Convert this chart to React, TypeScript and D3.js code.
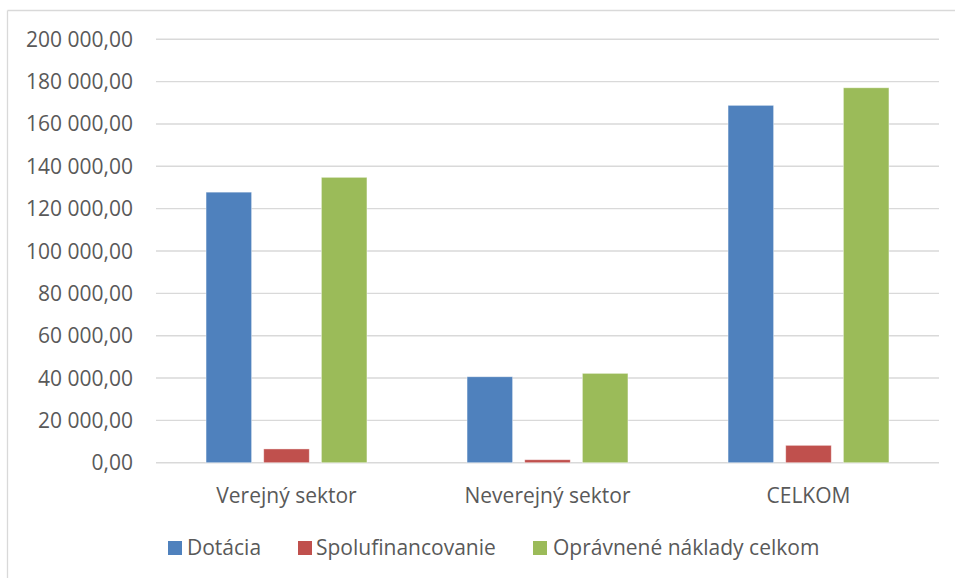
import React from "react";
import * as d3 from "d3";

const categories = ["Verejný sektor", "Neverejný sektor", "CELKOM"];
const seriesNames = ["Dotácia", "Spolufinancovanie", "Oprávnené náklady celkom"];
const dotacia = [127800, 40600, 168800];
const spolufinancovanie = [6500, 1400, 8200];
const opravneneNaklady = [134800, 42200, 177100];
const yTicks = [0, 20000, 40000, 60000, 80000, 100000, 120000, 140000, 160000, 180000, 200000];
const colors = ["#4F81BD", "#C0504D", "#9BBB59"];

const W = 955;
const H = 578;
const FONT = "'Open Sans', sans-serif";
const TEXT = "#595959";

function fmt(v: number): string {
  const s = v.toFixed(2).replace(".", ",");
  const [i, d] = s.split(",");
  return i.replace(/\B(?=(\d{3})+(?!\d))/g, " ") + "," + d;
}

export default function App() {
  const series = [dotacia, spolufinancovanie, opravneneNaklady];
  const x0 = d3.scaleBand<string>().domain(categories).range([156, 939]).padding(0);
  const y = d3.scaleLinear().domain([0, 200000]).range([462.7, 39.3]);
  const inner = (c: number) =>
    d3
      .scaleBand<string>()
      .domain(seriesNames)
      .range([c - 86.5, c + 86.5])
      .paddingInner(0.21)
      .paddingOuter(0.105);

  const legendItems = [
    { name: seriesNames[0], sq: 168, tx: 187 },
    { name: seriesNames[1], sq: 298, tx: 316 },
    { name: seriesNames[2], sq: 533, tx: 553 },
  ];

  return (
    <svg
      width={W}
      height={H}
      style={{ position: "absolute", left: 0, top: 0, background: "#fff" }}
      fontFamily={FONT}
    >
      <rect x={0} y={0} width={W} height={H} fill="#fff" />
      {/* outer chart border (extends beyond right & bottom) */}
      <line x1={7.5} y1={10.5} x2={W} y2={10.5} stroke="#D9D9D9" strokeWidth={1.3} />
      <line x1={7.5} y1={10.5} x2={7.5} y2={H} stroke="#D9D9D9" strokeWidth={1.3} />

      {/* gridlines */}
      {yTicks.map((t) => (
        <line
          key={"g" + t}
          x1={156}
          x2={939}
          y1={y(t)}
          y2={y(t)}
          stroke="#D9D9D9"
          strokeWidth={1.4}
        />
      ))}

      {/* y tick labels */}
      {yTicks.map((t) => (
        <text
          key={"t" + t}
          x={133}
          y={y(t) + 7.5}
          textAnchor="end"
          fontSize={21}
          fill={TEXT}
        >
          {fmt(t)}
        </text>
      ))}

      {/* bars */}
      {categories.map((cat, ci) => {
        const c = (x0(cat) as number) + x0.bandwidth() / 2;
        const xi = inner(c);
        return (
          <g key={cat}>
            {seriesNames.map((s, si) => {
              const v = series[si][ci];
              return (
                <rect
                  key={s}
                  x={xi(s) as number}
                  y={y(v)}
                  width={xi.bandwidth()}
                  height={y(0) - y(v)}
                  fill={colors[si]}
                  stroke="#ffffff"
                  strokeOpacity={0.5}
                  strokeWidth={0.8}
                />
              );
            })}
            <text x={c} y={503} textAnchor="middle" fontSize={21} fill={TEXT}>
              {cat}
            </text>
          </g>
        );
      })}

      {/* legend */}
      {legendItems.map((l, i) => (
        <g key={l.name}>
          <rect x={l.sq} y={541} width={14} height={14} fill={colors[i]} />
          <text x={l.tx} y={555} fontSize={21} fill={TEXT}>
            {l.name}
          </text>
        </g>
      ))}
    </svg>
  );
}
